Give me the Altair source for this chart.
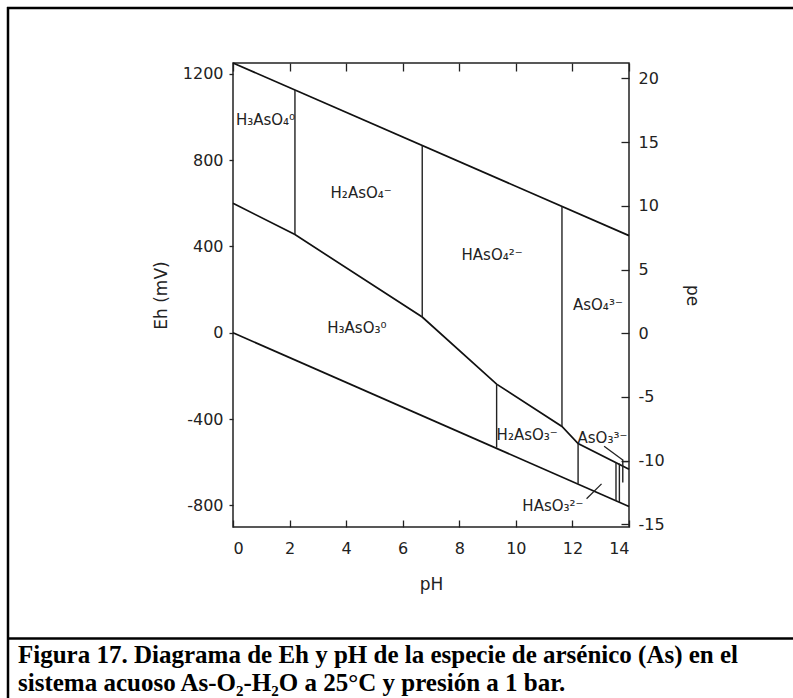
import altair as alt
import pandas as pd

# ---------------- data ----------------
ph_ticks = [0, 2, 4, 6, 8, 10, 12, 14]
eh_ticks = [-800, -400, 0, 400, 800, 1200]
pe_ticks = [-15, -10, -5, 0, 5, 10, 15, 20]

eh_domain = [-900, 1250]
pe_domain = [-15.2, 21.2]

# water stability limits and As(V)/As(III) boundary
water_ox_ph = [0, 14]
water_ox_eh = [1250, 450]
water_red_ph = [0, 14]
water_red_eh = [0, -805]
as_ph = [0, 2.19, 6.69, 9.32, 11.63, 12.2, 14]
as_eh = [600, 455, 73, -238, -434, -513, -632]

# vertical (pH-controlled) boundaries
vert_ph = [2.19, 6.69, 11.63, 9.32, 12.2, 13.54, 13.66, 13.78]
vert_lo = [455, 73, -434, -532, -700, -778, -785, -694]
vert_hi = [1125, 868, 585, -238, -513, -600, -606, -587]

# leader lines and short segment
seg_ph1 = [13.12, 12.5, 13.78]
seg_eh1 = [-526, -769, -597]
seg_ph2 = [13.78, 13.03, 13.96]
seg_eh2 = [-590, -700, -597]

# species labels
label_text = ["H₃AsO₄⁰", "H₂AsO₄⁻", "HAsO₄²⁻", "AsO₄³⁻",
              "H₃AsO₃⁰", "H₂AsO₃⁻", "AsO₃³⁻", "HAsO₃²⁻"]
label_ph = [1.15, 4.53, 9.16, 12.9, 4.38, 10.4, 13.06, 11.31]
label_eh = [985, 647, 361, 129, 23, -472, -486, -804]

caption_lines = [
    "Figura 17. Diagrama de Eh y pH de la especie de arsénico (As) en el",
    "sistema acuoso As-O₂-H₂O a 25°C y presión a 1 bar.",
]

# ---------------- tables ----------------
rows = []
for name, xs_, ys_ in [("ox", water_ox_ph, water_ox_eh),
                       ("red", water_red_ph, water_red_eh),
                       ("as", as_ph, as_eh)]:
    for i, (a, b) in enumerate(zip(xs_, ys_)):
        rows.append({"series": name, "i": i, "pH": a, "Eh": b})
lines_df = pd.DataFrame(rows)
vert_df = pd.DataFrame({"pH": vert_ph, "lo": vert_lo, "hi": vert_hi})
seg_df = pd.DataFrame({"x1": seg_ph1, "y1": seg_eh1, "x2": seg_ph2, "y2": seg_eh2})
lab_df = pd.DataFrame({"t": label_text, "pH": label_ph, "Eh": label_eh})
pe_df = pd.DataFrame({"pe": pe_ticks, "pH": [0] * len(pe_ticks)})
cap_df = pd.DataFrame({"t": caption_lines, "k": [0, 1]})
one = pd.DataFrame({"a": [0]})

W, H = 396, 464
PL, PT = 233, 63

xs = alt.Scale(domain=[0, 14], nice=False)
ys = alt.Scale(domain=eh_domain, nice=False)
plain = "datum.value + ''"

x_axis = alt.Axis(values=ph_ticks, orient="bottom", domain=False, tickSize=7,
                  offset=-7, labelPadding=13, title="pH", titlePadding=20,
                  grid=False, labelExpr=plain)
y_axis = alt.Axis(values=eh_ticks, orient="left", domain=False, tickSize=4,
                  labelPadding=6, title="Eh (mV)", titlePadding=12, grid=False,
                  labelExpr=plain)

lines = alt.Chart(lines_df).mark_line(color="#111", strokeWidth=1.7).encode(
    x=alt.X("pH:Q", scale=xs, axis=x_axis),
    y=alt.Y("Eh:Q", scale=ys, axis=y_axis),
    detail="series:N",
    order="i:Q",
)

verts = alt.Chart(vert_df).mark_rule(color="#222", strokeWidth=1.4).encode(
    x=alt.X("pH:Q", scale=xs),
    y=alt.Y("lo:Q", scale=ys),
    y2="hi:Q",
)

segs = alt.Chart(seg_df).mark_rule(color="#222", strokeWidth=1.3).encode(
    x=alt.X("x1:Q", scale=xs),
    x2="x2:Q",
    y=alt.Y("y1:Q", scale=ys),
    y2="y2:Q",
)

labels = alt.Chart(lab_df).mark_text(
    font="DejaVu Sans", fontSize=15, color="#222", align="center", baseline="middle"
).encode(
    x=alt.X("pH:Q", scale=xs),
    y=alt.Y("Eh:Q", scale=ys),
    text="t:N",
)

# outer figure frame lines and caption separator (decoration)
RIGHT = 793 - PL
top_line = alt.Chart(one).mark_rule(color="#000", strokeWidth=2.5).encode(
    x=alt.value(7 - PL), x2=alt.value(RIGHT), y=alt.value(8 - PT),
)
left_line = alt.Chart(one).mark_rule(color="#000", strokeWidth=2.5).encode(
    x=alt.value(8 - PL), y=alt.value(7 - PT), y2=alt.value(698 - PT),
)
sep = alt.Chart(one).mark_rule(color="#000", strokeWidth=2.5).encode(
    x=alt.value(7 - PL), x2=alt.value(RIGHT), y=alt.value(638.5 - PT),
)
caption = alt.Chart(cap_df).mark_text(
    font="Liberation Serif", fontWeight="bold", fontSize=25, color="#000",
    align="left", baseline="alphabetic",
).encode(
    x=alt.value(18 - PL),
    y=alt.Y("k:Q", scale=alt.Scale(domain=[0, 1], range=[663 - PT, 691 - PT]), axis=None),
    text="t:N",
)

eh_layer = alt.layer(lines, verts, segs, labels, top_line, left_line, sep)

pe_layer = alt.Chart(pe_df).mark_point(opacity=0).encode(
    x=alt.X("pH:Q", scale=xs,
            axis=alt.Axis(values=ph_ticks, orient="top", domain=False, tickSize=8,
                          offset=-8, labels=False, title=None, grid=False)),
    y=alt.Y("pe:Q", scale=alt.Scale(domain=pe_domain, nice=False),
            axis=alt.Axis(values=pe_ticks, orient="right", domain=False, tickSize=8,
                          offset=-8, labelPadding=9, title="pe", titlePadding=18,
                          grid=False, labelExpr=plain)),
)

chart = alt.layer(eh_layer, pe_layer, caption).resolve_scale(
    y="independent"
).resolve_axis(x="independent", y="independent").properties(
    width=W, height=H,
    padding={"left": PL, "top": PT, "right": 793 - PL - W, "bottom": 698 - PT - H},
    autosize="none",
).configure_view(stroke="#222", strokeWidth=1.5).configure_axis(
    labelFont="DejaVu Sans", labelFontSize=16, labelColor="#222",
    titleFont="DejaVu Sans", titleFontSize=17, titleFontWeight="normal",
    titleColor="#222", tickColor="#222", tickWidth=1.3,
)

chart.save("out.html", embed_options={"renderer": "svg", "actions": False})
